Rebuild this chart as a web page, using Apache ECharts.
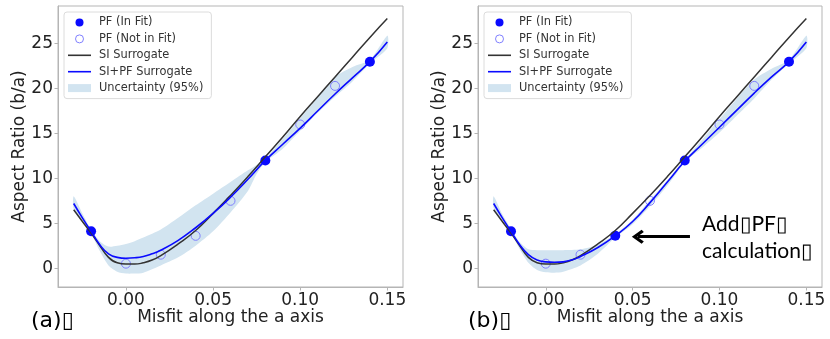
<!DOCTYPE html>
<html>
<head>
<meta charset="utf-8">
<script src="https://cdn.jsdelivr.net/npm/echarts@6/dist/echarts.min.js"></script>
<style>
  html, body { margin: 0; background: #fff; }
  #chart { width: 830px; height: 339px; }
</style>
</head>
<body>
<div id="chart"></div>
<script>
// axis ticks
const xTicks = [0, 0.05, 0.1, 0.15];
const yTicks = [0, 5, 10, 15, 20, 25];

// surrogate curves (sampled from the figure)
const curveX = [-0.03, -0.025, -0.02, -0.015, -0.01, -0.005, 0, 0.005, 0.01, 0.015, 0.02, 0.03,
  0.04, 0.05, 0.06, 0.07, 0.08, 0.09, 0.1, 0.11, 0.12, 0.13, 0.14, 0.15];
const siSurrogate = [6.5, 5.2, 3.9, 2.5, 1.2, 0.6, 0.45, 0.45, 0.6, 0.9, 1.4, 2.7,
  4.2, 6.1, 8.1, 10.2, 12.4, 14.6, 16.9, 19.1, 21.3, 23.5, 25.7, 27.8];
const siPfSurrogateA = [7.2, 5.6, 4.1, 2.6, 1.6, 1.2, 1.1, 1.15, 1.3, 1.6, 2.0, 3.1,
  4.5, 6.1, 7.9, 9.9, 12.0, 13.8, 15.6, 17.5, 19.4, 21.2, 23.0, 25.2];
const siPfSurrogateB = [7.2, 5.6, 4.1, 2.6, 1.5, 0.9, 0.7, 0.65, 0.7, 0.9, 1.3, 2.3,
  3.6, 5.2, 7.3, 9.6, 11.9, 13.8, 15.7, 17.6, 19.5, 21.3, 23.0, 25.2];

// 95% uncertainty band
const bandX = [-0.03, -0.025, -0.02, -0.015, -0.01, -0.005, 0, 0.005, 0.01, 0.02, 0.03, 0.04,
  0.05, 0.06, 0.07, 0.075, 0.08, 0.09, 0.1, 0.11, 0.12, 0.13, 0.14, 0.15];
const bandUpperA = [8.0, 6.1, 4.3, 3.0, 2.4, 2.5, 2.7, 3.0, 3.4, 4.3, 5.6, 7.0,
  8.3, 9.6, 10.9, 11.5, 12.2, 14.4, 16.7, 19.0, 21.3, 22.4, 23.2, 25.9];
const bandLowerA = [6.6, 5.3, 3.9, 1.9, 0.3, -0.4, -0.6, -0.6, -0.5, 0.3, 1.2, 2.5,
  4.1, 6.2, 8.6, 10.5, 11.8, 13.3, 15.3, 17.3, 19.1, 20.8, 22.8, 24.5];
const bandUpperB = [8.0, 6.0, 4.4, 2.9, 2.1, 2.0, 2.0, 2.0, 2.0, 2.1, 2.6, 3.8,
  5.4, 7.6, 9.8, 11.0, 12.1, 14.3, 16.6, 18.9, 21.0, 22.2, 23.2, 25.9];
const bandLowerB = [6.7, 5.4, 4.0, 2.1, 0.6, -0.2, -0.45, -0.5, -0.4, 0.3, 1.6, 3.4,
  4.9, 6.9, 9.2, 10.5, 11.8, 13.4, 15.1, 17.0, 18.9, 21.0, 22.8, 24.5];

// phase-field points
const inFitA = [[-0.02, 4.1], [0.08, 12.0], [0.14, 23.0]];
const notInFitA = [[0, 0.5], [0.02, 1.5], [0.04, 3.6], [0.06, 7.5], [0.1, 16.0], [0.12, 20.3]];
const inFitB = [[-0.02, 4.1], [0.04, 3.6], [0.08, 12.0], [0.14, 23.0]];
const notInFitB = [[0, 0.5], [0.02, 1.5], [0.06, 7.5], [0.1, 16.0], [0.12, 20.3]];

const BLUE = "#0a0aff";
const OPEN_BLUE = "#8080ff";
const BLACK = "#333";
const BAND = "#d2e4f0";
const FRAME = "#b5b5b5";
const TEXT = "#222";
const FONT = "DejaVu Sans";
const LINE_ICON = "path://M0,0 H23 V1.6 H0 Z";

const pairs = (xs, ys) => xs.map((x, i) => [x, ys[i]]);

function axesFor(idx) {
  const common = {
    gridIndex: idx,
    type: "value",
    nameLocation: "middle",
    nameMoveOverlap: false,
    nameTextStyle: { fontFamily: FONT, fontSize: 17, color: TEXT },
    axisLine: { show: true, onZero: false, lineStyle: { color: FRAME, width: 1 } },
    splitLine: { show: false },
  };
  return {
    x: {
      ...common,
      min: -0.039,
      max: 0.159,
      name: "Misfit along the a axis",
      nameGap: 22,
      axisTick: { show: true, length: 3.5, lineStyle: { color: FRAME }, customValues: xTicks },
      axisLabel: {
        fontFamily: FONT, fontSize: 17, color: TEXT, margin: 5,
        customValues: xTicks, formatter: (v) => v.toFixed(2),
      },
    },
    y: {
      ...common,
      min: -2.1,
      max: 29.2,
      name: "Aspect Ratio (b/a)",
      nameGap: 30,
      axisTick: { show: true, length: 3.5, lineStyle: { color: FRAME }, customValues: yTicks },
      axisLabel: { fontFamily: FONT, fontSize: 17, color: TEXT, margin: 5, customValues: yTicks },
    },
  };
}

function legendFor(left) {
  return {
    left, top: 12, orient: "vertical",
    itemGap: 5.4, itemWidth: 23, itemHeight: 8,
    padding: [5, 8, 5, 4],
    borderColor: "#dcdcdc", borderWidth: 1, borderRadius: 3,
    backgroundColor: "rgba(255,255,255,0.8)",
    textStyle: { fontFamily: FONT, fontSize: 11.4, color: "#333", padding: [0, 0, 0, 3] },
    data: [
      { name: "PF (In Fit)", icon: "circle", itemStyle: { color: BLUE, opacity: 1 } },
      {
        name: "PF (Not in Fit)", icon: "circle",
        itemStyle: { color: "#fff", borderColor: OPEN_BLUE, borderWidth: 1, opacity: 1 },
      },
      { name: "SI Surrogate", icon: LINE_ICON, itemStyle: { color: BLACK } },
      { name: "SI+PF Surrogate", icon: LINE_ICON, itemStyle: { color: BLUE } },
      { name: "Uncertainty (95%)", icon: "rect", itemStyle: { color: BAND } },
    ],
  };
}

// band polygon: upper edge left->right, lower edge right->left, placed via the axes
function bandRenderer(upper, lower) {
  return (params, api) => {
    if (params.dataIndex !== 0) return null;
    const top = bandX.map((x, i) => api.coord([x, upper[i]]));
    const bottom = bandX.map((x, i) => api.coord([x, lower[i]])).reverse();
    return {
      type: "polygon",
      shape: { points: top.concat(bottom), smooth: 0.25 },
      style: { fill: BAND },
      silent: true,
    };
  };
}

function panelSeries(idx, blueLine, upper, lower, inFit, notInFit, extra) {
  return [
    {
      name: "Uncertainty (95%)", type: "custom", xAxisIndex: idx, yAxisIndex: idx,
      renderItem: bandRenderer(upper, lower),
      itemStyle: { color: BAND },
      encode: { x: 0, y: [1, 2] },
      data: bandX.map((x, i) => [x, lower[i], upper[i]]),
      z: 1,
    },
    {
      name: "SI Surrogate", type: "line", xAxisIndex: idx, yAxisIndex: idx,
      smooth: true, symbol: "none",
      lineStyle: { color: BLACK, width: 1.5 },
      itemStyle: { color: BLACK },
      data: pairs(curveX, siSurrogate),
    },
    {
      name: "SI+PF Surrogate", type: "line", xAxisIndex: idx, yAxisIndex: idx,
      smooth: true, symbol: "none",
      lineStyle: { color: BLUE, width: 1.6 },
      itemStyle: { color: BLUE },
      data: pairs(curveX, blueLine),
      ...extra,
    },
    {
      name: "PF (Not in Fit)", type: "scatter", xAxisIndex: idx, yAxisIndex: idx,
      symbol: "circle", symbolSize: 9,
      itemStyle: { color: "rgba(255,255,255,0)", borderColor: OPEN_BLUE, borderWidth: 1, opacity: 1 },
      data: notInFit,
    },
    {
      name: "PF (In Fit)", type: "scatter", xAxisIndex: idx, yAxisIndex: idx,
      symbol: "circle", symbolSize: 10,
      itemStyle: { color: BLUE, opacity: 1 },
      data: inFit,
    },
  ];
}

const axA = axesFor(0);
const axB = axesFor(1);

// arrow pointing at the added PF calculation in panel (b)
const arrowMark = {
  markLine: {
    silent: true,
    animation: false,
    symbol: ["none", "path://M5,0 L10,6.2 L8.4,7.6 L5,3.4 L1.6,7.6 L0,6.2 Z"],
    symbolSize: [14, 12],
    label: { show: false },
    lineStyle: { color: "#000", width: 3, type: "solid" },
    data: [[{ coord: [0.083, 3.5] }, { coord: [0.053, 3.5] }]],
  },
};

const option = {
  animation: false,
  backgroundColor: "#fff",
  grid: [
    { left: 58, right: 427, top: 6, bottom: 52, show: true, borderColor: FRAME, borderWidth: 1 },
    { left: 478, right: 8, top: 6, bottom: 52, show: true, borderColor: FRAME, borderWidth: 1 },
  ],
  xAxis: [axA.x, axB.x],
  yAxis: [axA.y, axB.y],
  legend: [legendFor(64), legendFor(484)],
  series: [
    ...panelSeries(0, siPfSurrogateA, bandUpperA, bandLowerA, inFitA, notInFitA, {}),
    ...panelSeries(1, siPfSurrogateB, bandUpperB, bandLowerB, inFitB, notInFitB, arrowMark),
  ],
  graphic: [
    { type: "text", left: 31, top: 310, style: { text: "(a)\u25AF", font: "22px 'DejaVu Sans'", fill: "#000" } },
    { type: "text", left: 468, top: 310, style: { text: "(b)\u25AF", font: "22px 'DejaVu Sans'", fill: "#000" } },
    {
      type: "text", left: 702, top: 211,
      style: { text: "Add\u25AFPF\u25AF\ncalculation\u25AF", font: "21px Lato", lineHeight: 27, fill: "#000" },
    },
  ],
};

const chart = echarts.init(document.getElementById("chart"));
chart.setOption(option);
</script>
</body>
</html>
